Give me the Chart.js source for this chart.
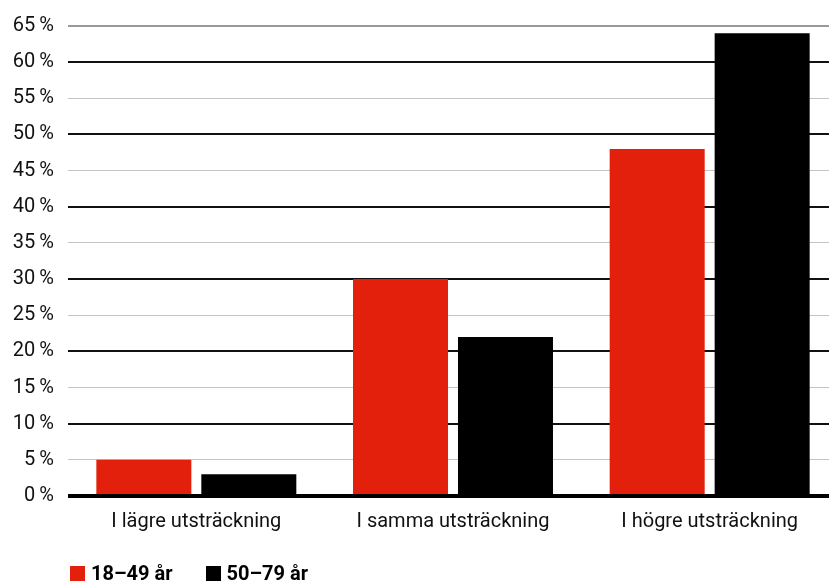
<!DOCTYPE html>
<html><head><meta charset="utf-8">
<script src="https://cdn.jsdelivr.net/npm/chart.js@4"></script>
<style>
html,body{margin:0;padding:0;overflow:hidden;background:#fff}
#w{width:838px;height:582px;position:relative}
#lg{position:absolute;left:70px;top:561px;font-family:Roboto,'DejaVu Sans',sans-serif;font-weight:bold;font-size:20px;color:#000;display:flex;gap:0}
#lg span.it{display:flex;align-items:center;margin-right:33px}
#lg i{display:inline-block;width:15px;height:15px;margin-right:6px}
</style>
</head><body><div id="w"><canvas id="c"></canvas><div id="lg"></div></div>
<script>
const categories = ["I lägre utsträckning", "I samma utsträckning", "I högre utsträckning"];
const seriesNames = ["18–49 år", "50–79 år"];
const seriesColors = ["#e2200c", "#000000"];
const series1 = [5, 30, 48];
const series2 = [3, 22, 64];
const yMax = 65, yStep = 5;
const font = "Roboto, 'DejaVu Sans', sans-serif";

const lg = document.getElementById('lg');
seriesNames.forEach((n, i) => {
  const s = document.createElement('span'); s.className = 'it';
  const b = document.createElement('i'); b.style.background = seriesColors[i];
  s.appendChild(b); s.appendChild(document.createTextNode(n)); lg.appendChild(s);
});

new Chart(document.getElementById('c'), {
  type: 'bar',
  data: {
    labels: categories,
    datasets: [
      {label: seriesNames[0], data: series1, backgroundColor: seriesColors[0], barPercentage: 0.905, categoryPercentage: 0.818},
      {label: seriesNames[1], data: series2, backgroundColor: seriesColors[1], barPercentage: 0.905, categoryPercentage: 0.818}
    ]
  },
  options: {
    responsive: true, maintainAspectRatio: false, animation: false,
    layout: {padding: {top: 8, right: 0, left: 0, bottom: 42}},
    plugins: {tooltip: {enabled: false}, legend: {display: false}},
    scales: {
      x: {
        grid: {display: false}, border: {display: false},
        ticks: {color: '#111', font: {family: font, size: 20}, padding: 6}
      },
      y: {
        min: 0, max: yMax,
        afterFit: s => { s.width = 68; },
        border: {display: false},
        grid: {
          drawTicks: false,
          color: c => c.tick.value === 0 ? '#000' : (c.tick.value === yMax ? '#999' : (c.tick.value % 10 === 0 ? '#111' : '#c4c4c4')),
          lineWidth: c => c.tick.value === 0 ? 4 : (c.tick.value % 10 === 0 ? 2 : (c.tick.value === yMax ? 2 : 1))
        },
        ticks: {stepSize: yStep, padding: 14, color: '#111', font: {family: font, size: 20},
          callback: v => v + '\u2009%'}
      }
    }
  }
});
</script></body></html>
